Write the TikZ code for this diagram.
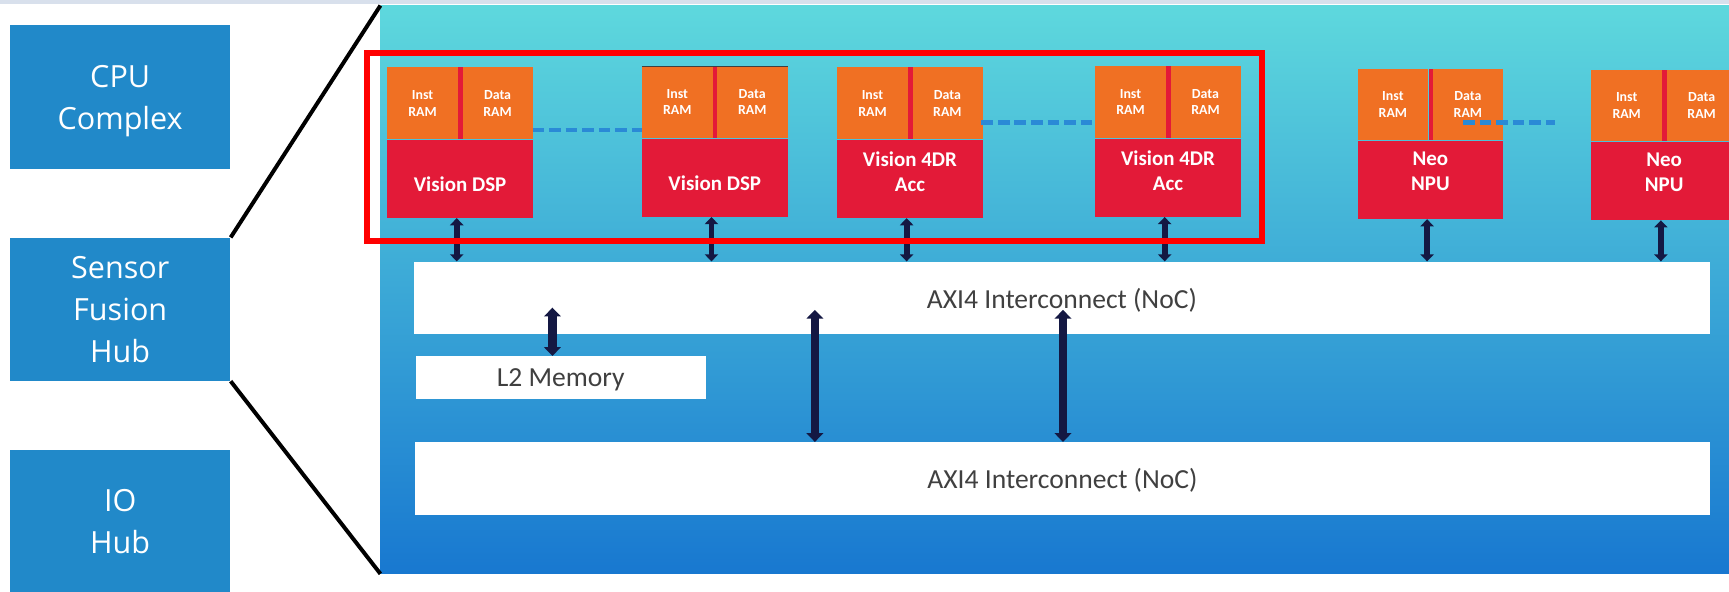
\documentclass[tikz,border=0pt]{standalone}
\usepackage{fontspec}
\setmainfont{Carlito}
\newfontfamily\segfont{Open Sans}
\usetikzlibrary{arrows.meta}
\definecolor{lbblue}{HTML}{2189C9}
\definecolor{orng}{HTML}{F07023}
\definecolor{crim}{HTML}{E31A38}
\definecolor{navy}{HTML}{141843}
\definecolor{dashblue}{HTML}{2A8AD6}
\definecolor{txtgray}{HTML}{404040}
\definecolor{ptop}{HTML}{5ED8DD}
\definecolor{pmid}{HTML}{48B3D9}
\definecolor{pbot}{HTML}{1878D0}
\definecolor{topstrip}{HTML}{D8E0EC}
% #1 name, #2 left x, #3 top y, #4 text, #5 text shift
\newcommand\mkblock[5]{%
  \node[cell, anchor=north west] (#1i) at (#2,#3) {Inst\\RAM};
  \node[cell, anchor=north west] (#1d) at ([xshift=68pt]#1i.north west) {Data\\RAM};
  \node[divider, anchor=north west] (#1s) at (#1i.north east) {};
  \node[core, anchor=north west] (#1) at (#1i.south west) {};
  \node[coretext] (#1x) at ([yshift=#5]#1.center) {#4};
}
\begin{document}
\begin{tikzpicture}[x=1pt,y=-1pt,
  leftbox/.style={fill=lbblue, minimum width=200pt, minimum height=130pt, inner sep=0pt, text=white, align=center, text depth=0pt, font=\segfont\fontsize{27.7}{38}\selectfont},
  cell/.style={fill=orng, minimum width=64pt, minimum height=65pt, inner sep=0pt, text=white, align=center, text depth=0pt, font=\bfseries\fontsize{12.6}{15}\selectfont},
  divider/.style={fill=crim, minimum width=4pt, minimum height=65pt, inner sep=0pt},
  core/.style={fill=crim, minimum width=132pt, minimum height=71pt, inner sep=0pt},
  coretext/.style={inner sep=0pt, text=white, align=center, font=\bfseries\fontsize{19}{22.6}\selectfont},
  wbox/.style={fill=white, inner sep=0pt, text=txtgray, text depth=0pt, font=\fontsize{25}{30}\selectfont},
  dbl/.style={navy, line width=5.2pt, {Triangle[width=12pt,length=6.5pt]}-{Triangle[width=12pt,length=6.5pt]}},
  dblbig/.style={navy, line width=7.5pt, {Triangle[width=15pt,length=8pt]}-{Triangle[width=15pt,length=8pt]}},
  link/.style={dashblue, line width=4pt, dash pattern=on 10.5pt off 4.5pt},
  zoomline/.style={black, line width=3.6pt}
]
\useasboundingbox (0,0) rectangle (1568,536);
\clip (0,0) rectangle (1568,536);
\fill[white] (0,0) rectangle (1568,536);
\fill[topstrip] (0,0) rectangle (1568,4);

% panel
\node[shade, top color=ptop, middle color=pmid, bottom color=pbot, minimum width=1240pt, minimum height=515pt, inner sep=0pt, anchor=north west] (panel) at (345,5) {};

% left boxes
\node[leftbox] (cpu) at (109,88) {CPU\\Complex};
\node[leftbox] (sfh) at (109,280.5) {Sensor\\Fusion\\Hub};
\node[leftbox] (io) at (109,473) {IO\\Hub};

% zoom lines
\draw[zoomline] (sfh.north east) -- (panel.north west);
\draw[zoomline] (sfh.south east) -- (panel.south west);

% blocks
\mkblock{ba}{351}{61}{Vision DSP}{-5pt}
\mkblock{bb}{582}{60}{Vision DSP}{-5pt}
\mkblock{bc}{759}{61}{Vision 4DR\\Acc}{6.5pt}
\mkblock{bd}{993}{60}{Vision 4DR\\Acc}{6.5pt}
\mkblock{be}{1231}{62}{Neo\\NPU}{7.5pt}
\mkblock{bf}{1443}{63}{Neo\\NPU}{7.5pt}
\draw[line width=1pt, black!75] (bbi.north west) -- (bbd.north east);

% dashed links
\coordinate (da) at (483,118); \coordinate (db) at (582,118);
\draw[link] (da) -- (db);
\coordinate (dc) at (890,111); \coordinate (dd) at (993,111);
\draw[link] (dc) -- (dd);
\coordinate (de) at (1327,111); \coordinate (df) at (1410,111);
\draw[link] (de) -- (df);

% white boxes
\node[wbox, minimum width=1176pt, minimum height=66pt] (axa) at (963,270.3) {AXI4 Interconnect (NoC)};
\node[wbox, minimum width=263pt, minimum height=39pt] (ltwo) at (508.5,342.5) {L2 Memory};
\node[wbox, minimum width=1175pt, minimum height=66pt] (axb) at (963.5,434) {AXI4 Interconnect (NoC)};

% arrows blocks -> AXI
\foreach \b in {ba,bb,bc,bd,be,bf}{
  \coordinate (\b t) at ([xshift=-3pt]\b.south);
  \draw[dbl] (\b t) -- (\b t |- axa.north);
}
% middle arrows
\coordinate (ma) at (501,279);
\draw[dblbig] (ma) -- (ma |- ltwo.north);
\coordinate (mb) at (739,281);
\draw[dblbig] (mb) -- (mb |- axb.north);
\coordinate (mc) at (964,281);
\draw[dblbig] (mc) -- (mc |- axb.north);

% red frame
\node[draw=red, line width=5.5pt, minimum width=812pt, minimum height=170.7pt, inner sep=0pt] (frame) at (738.8,133.35) {};
\end{tikzpicture}
\end{document}
